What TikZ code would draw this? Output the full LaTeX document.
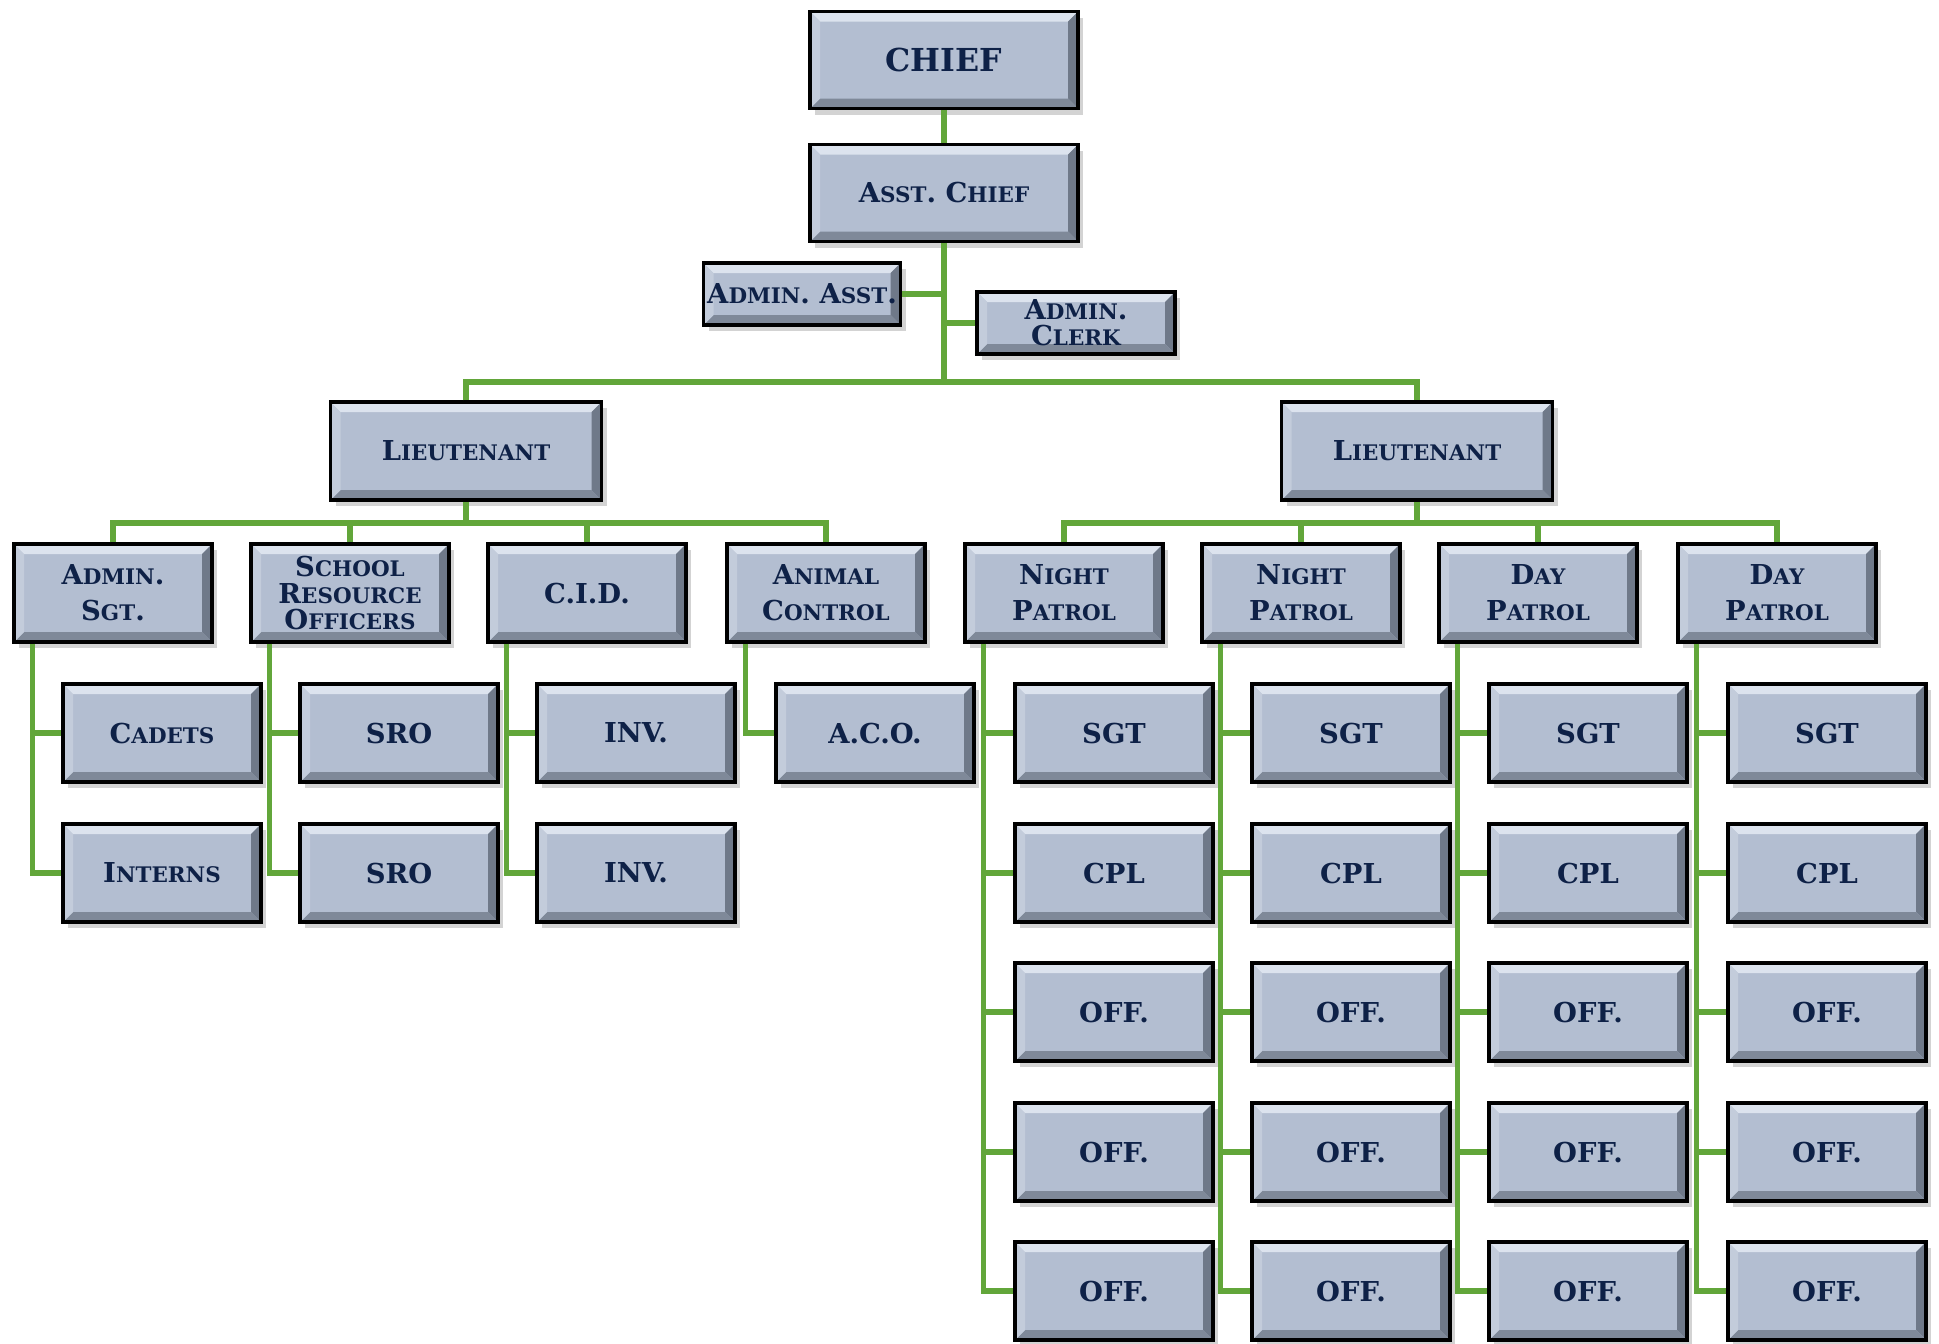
\documentclass[tikz,border=0pt]{standalone}
\usepackage{fontspec}
\setmainfont{DejaVu Serif}
\usetikzlibrary{calc}
\usetikzlibrary{shadows}

\definecolor{boxfill}{HTML}{B3BED1}
\definecolor{bevtop}{HTML}{DCE3EE}
\definecolor{bevleft}{HTML}{C3CCDB}
\definecolor{bevright}{HTML}{6F7989}
\definecolor{bevbot}{HTML}{7F8999}
\definecolor{navy}{HTML}{0E2147}
\definecolor{linkgreen}{HTML}{62A63A}

% fake small caps
\newcommand{\sm}[1]{{\fontsize{6.1}{7}\selectfont #1}}
\newcommand{\bev}{1mm}

\tikzset{
 bevel/.style={path picture={
   \path (path picture bounding box.north west) coordinate (pw)
         (path picture bounding box.south east) coordinate (pe);
   \fill[bevtop] (pw) -- (pw-|pe) -- ++(-\bev,-\bev) -- ($(pw)+(\bev,-\bev)$) -- cycle;
   \fill[bevright] (pw-|pe) -- (pe) -- ++(-\bev,\bev) -- ($(pw-|pe)+(-\bev,-\bev)$) -- cycle;
   \fill[bevbot] (pe) -- (pe-|pw) -- ++(\bev,\bev) -- ($(pe)+(-\bev,\bev)$) -- cycle;
   \fill[bevleft] (pe-|pw) -- (pw) -- ++(\bev,-\bev) -- ($(pe-|pw)+(\bev,\bev)$) -- cycle;
 }},
 unit/.style={draw=black, line width=0.35mm, fill=boxfill, text=navy, bevel,
   font=\bfseries\fontsize{7.8}{10.3}\selectfont, align=center, inner sep=0,
   minimum width=19.8mm, minimum height=9.8mm,
   drop shadow={shadow xshift=0.5mm, shadow yshift=-0.6mm, opacity=0.35}},
 head/.style={minimum width=26.8mm, minimum height=9.7mm},
 small/.style={minimum height=6.2mm},
 tight/.style={font=\bfseries\fontsize{7.8}{7.5}\selectfont},
 link/.style={draw=linkgreen, line width=0.55mm},
}

\begin{document}
\begin{tikzpicture}[x=0.1mm, y=-0.1mm]
\useasboundingbox (0,0) rectangle (1939,1343);

% top
\node[unit, head, font=\bfseries\fontsize{9}{11}\selectfont] (chief) at (944,60) {CHIEF};
\node[unit, head] (asst) at (944,193) {A\sm{SST}. C\sm{HIEF}};
\node[unit, small, minimum width=19.7mm] (aasst) at (802,294) {A\sm{DMIN}. A\sm{SST}.};
\node[unit, small, tight] (clerk) at (1076,323) {A\sm{DMIN}.\\C\sm{LERK}};
\node[unit, head, minimum width=27.1mm, minimum height=9.8mm] (ltL) at (466,451) {L\sm{IEUTENANT}};
\node[unit, head, minimum width=27.1mm, minimum height=9.8mm] (ltR) at (1417,451) {L\sm{IEUTENANT}};

% second row
\node[unit] (adm) at (113,593) {A\sm{DMIN}.\\S\sm{GT}.};
\node[unit, tight] (sro) at (350,593) {S\sm{CHOOL}\\R\sm{ESOURCE}\\O\sm{FFICERS}};
\node[unit] (cid) at (587,593) {C.I.D.};
\node[unit] (aco) at (826,593) {A\sm{NIMAL}\\C\sm{ONTROL}};
\node[unit] (np1) at (1064,593) {N\sm{IGHT}\\P\sm{ATROL}};
\node[unit] (np2) at (1301,593) {N\sm{IGHT}\\P\sm{ATROL}};
\node[unit] (dp1) at (1538,593) {D\sm{AY}\\P\sm{ATROL}};
\node[unit] (dp2) at (1777,593) {D\sm{AY}\\P\sm{ATROL}};

% left staff
\node[unit] (adm-1) at (162,733) {C\sm{ADETS}};
\node[unit] (adm-2) at (162,873) {I\sm{NTERNS}};
\node[unit] (sro-1) at (399,733) {SRO};
\node[unit] (sro-2) at (399,873) {SRO};
\node[unit] (cid-1) at (636,733) {INV.};
\node[unit] (cid-2) at (636,873) {INV.};
\node[unit] (aco-1) at (875,733) {A.C.O.};

% links, top part
\coordinate (busT) at (944,382);
\coordinate (busL) at (466,523);
\coordinate (busR) at (1417,523);
\draw[link] (chief) -- (asst);
\draw[link] (asst) -- (busT);
\draw[link] (aasst.east) -- (aasst.east -| busT);
\draw[link] (clerk.west) -- (clerk.west -| busT);
\draw[link] (ltL.north) |- (busT) -| (ltR.north);
\draw[link] (ltL) -- (busL);
\draw[link] (ltR) -- (busR);
\draw[link] (adm.north) |- (busL) -| (aco.north);
\foreach \p in {sro, cid}
  \draw[link] (\p.north) -- (\p.north |- busL);
\draw[link] (np1.north) |- (busR) -| (dp2.north);
\foreach \p in {np2, dp1}
  \draw[link] (\p.north) -- (\p.north |- busR);

% left staff links
\foreach \p/\n in {adm/2, sro/2, cid/2, aco/1} {
  \coordinate (\p-t) at ([xshift=2mm]\p.south west);
  \draw[link] (\p-t) |- (\p-\n.west);
  \foreach \r in {1,...,\n}
    \draw[link] (\p-\r.west) -- (\p-\r.west -| \p-t);
}

% patrol columns
\foreach \p/\lx in {np1/965, np2/1202, dp1/1439, dp2/1678} {
  \foreach \r/\t/\yy in {1/SGT/733, 2/CPL/873, 3/OFF./1012, 4/OFF./1152, 5/OFF./1291}
    \node[unit] (\p-\r) at (\lx+149,\yy) {\t};
  \coordinate (\p-t) at ([xshift=2mm]\p.south west);
  \draw[link] (\p-t) |- (\p-5.west);
  \foreach \r in {1,...,4}
    \draw[link] (\p-\r.west) -- (\p-\r.west -| \p-t);
}
\end{tikzpicture}
\end{document}
